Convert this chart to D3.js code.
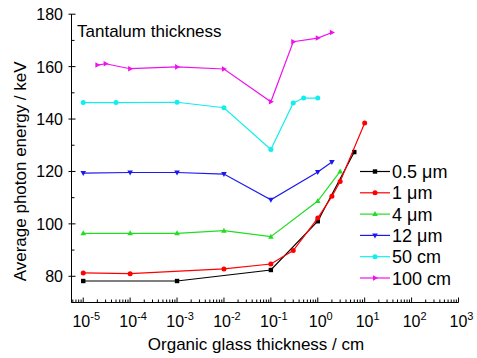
<!DOCTYPE html>
<html>
<head>
<meta charset="utf-8">
<script src="https://cdn.jsdelivr.net/npm/d3@7"></script>
<style>
  body { margin: 0; background: #fff; }
  text { font-family: "Liberation Sans", Arial, sans-serif; }
</style>
</head>
<body>
<script>
// series: x = organic glass thickness (cm), y = keV
const seriesNames = ["0.5 \u03bcm", "1 \u03bcm", "4 \u03bcm", "12 \u03bcm", "50 cm", "100 cm"];
const seriesColors = ["#000000", "#ff0000", "#22dd22", "#1a1aee", "#11eeee", "#ee11ee"];
const seriesSymbols = ["square", "circle", "triUp", "triDown", "circle", "triRight"];

const s05um = [[1e-5, 78.2], [1e-3, 78.2], [0.1, 82.4], [1, 101.0], [6, 127.4]];
const s1um = [[1e-5, 81.3], [1e-4, 81.0], [1e-2, 82.8], [0.1, 84.7], [0.3, 89.8], [1, 102.2], [2, 110.5], [3, 116.2], [10, 138.5]];
const s4um = [[1e-5, 96.4], [1e-4, 96.4], [1e-3, 96.4], [1e-2, 97.4], [0.1, 95.1], [1, 108.7], [3, 120.0]];
const s12um = [[1e-5, 119.4], [1e-4, 119.6], [1e-3, 119.6], [1e-2, 119.0], [0.1, 109.2], [1, 119.8], [2, 123.6]];
const s50cm = [[1e-5, 146.3], [5e-5, 146.3], [1e-3, 146.4], [1e-2, 144.3], [0.1, 128.4], [0.3, 146.1], [0.5, 148.0], [1, 148.0]];
const s100cm = [[2e-5, 160.6], [3e-5, 161.1], [1e-4, 159.2], [1e-3, 159.9], [1e-2, 159.1], [0.1, 146.6], [0.3, 169.5], [1, 170.9], [2, 173.0]];
const allSeries = [s05um, s1um, s4um, s12um, s50cm, s100cm];

const xDecades = [-5, -4, -3, -2, -1, 0, 1, 2, 3];
const yTicks = [80, 100, 120, 140, 160, 180];

const width = 477, height = 358;

const x = d3.scaleLog().domain([Math.pow(10, -5.25), 1000]).range([71.5, 458.5]);
const y = d3.scaleLinear().domain([70, 180]).range([302.5, 14.2]);

const svg = d3.select("body").append("svg")
    .attr("width", width)
    .attr("height", height);

// x axis: line + inward ticks
const xa = svg.append("g");
xa.append("line")
    .attr("x1", x.range()[0]).attr("x2", x.range()[1])
    .attr("y1", y(70)).attr("y2", y(70))
    .attr("stroke", "#000").attr("stroke-width", 1);
let minorX = [];
for (let e = -6; e < 3; e++) {
    for (let k = 2; k <= 9; k++) {
        let v = k * Math.pow(10, e);
        if (v >= x.domain()[0] && v <= 1000) minorX.push(v);
    }
}
xa.selectAll("line.minor").data(minorX).enter().append("line")
    .attr("x1", d => x(d)).attr("x2", d => x(d))
    .attr("y1", y(70)).attr("y2", y(70) - 3)
    .attr("stroke", "#000");
xa.selectAll("line.major").data(xDecades).enter().append("line")
    .attr("x1", d => x(Math.pow(10, d))).attr("x2", d => x(Math.pow(10, d)))
    .attr("y1", y(70)).attr("y2", y(70) - 5)
    .attr("stroke", "#000");
const xl = xa.selectAll("text.tl").data(xDecades).enter().append("text")
    .attr("x", d => x(Math.pow(10, d)) + 3)
    .attr("y", 327)
    .attr("text-anchor", "middle")
    .attr("font-size", 16);
xl.append("tspan").text("10");
xl.append("tspan").attr("dy", -7).attr("font-size", 11).text(d => d);

svg.append("text")
    .attr("x", 256)
    .attr("y", 350)
    .attr("text-anchor", "middle")
    .attr("font-size", 17)
    .text("Organic glass thickness / cm");

// y axis
const ya = svg.append("g");
ya.append("line")
    .attr("x1", x.range()[0]).attr("x2", x.range()[0])
    .attr("y1", y(70)).attr("y2", y(180))
    .attr("stroke", "#000");
ya.selectAll("line.minor").data(d3.range(70, 181, 10).filter(v => v % 20 != 0)).enter().append("line")
    .attr("x1", x.range()[0]).attr("x2", x.range()[0] + 3)
    .attr("y1", d => y(d)).attr("y2", d => y(d))
    .attr("stroke", "#000");
ya.selectAll("line.major").data(yTicks).enter().append("line")
    .attr("x1", x.range()[0] - 3).attr("x2", x.range()[0] + 4)
    .attr("y1", d => y(d)).attr("y2", d => y(d))
    .attr("stroke", "#000");
ya.selectAll("text").data(yTicks).enter().append("text")
    .attr("x", 63)
    .attr("y", d => y(d) + 6)
    .attr("text-anchor", "end")
    .attr("font-size", 16)
    .text(d => d);

svg.append("text")
    .attr("transform", `translate(26,${(y(70) + y(180)) / 2 + 13}) rotate(-90)`)
    .attr("text-anchor", "middle")
    .attr("font-size", 17)
    .text("Average photon energy / keV");

svg.append("text")
    .attr("x", 77).attr("y", 37)
    .attr("font-size", 17)
    .text("Tantalum thickness");

function drawMarker(g, sym, cx, cy, color) {
    const r = 2.5;
    if (sym == "square") {
        g.append("rect").attr("x", cx - r + 0.3).attr("y", cy - r + 0.3)
            .attr("width", 2 * r - 0.6).attr("height", 2 * r - 0.6).attr("fill", color);
    } else if (sym == "circle") {
        g.append("circle").attr("cx", cx).attr("cy", cy).attr("r", r).attr("fill", color);
    } else {
        let pts;
        if (sym == "triUp") pts = [[cx, cy - r - 0.5], [cx - r - 0.3, cy + r - 0.5], [cx + r + 0.3, cy + r - 0.5]];
        else if (sym == "triDown") pts = [[cx, cy + r + 0.5], [cx - r - 0.3, cy - r + 0.5], [cx + r + 0.3, cy - r + 0.5]];
        else pts = [[cx + r + 0.5, cy], [cx - r + 0.5, cy - r - 0.3], [cx - r + 0.5, cy + r + 0.3]];
        g.append("polygon").attr("points", pts.map(p => p.join(",")).join(" ")).attr("fill", color);
    }
}

const line = d3.line().x(d => x(d[0])).y(d => y(d[1]));

allSeries.forEach((data, i) => {
    const g = svg.append("g");
    g.append("path")
        .datum(data)
        .attr("d", line)
        .attr("fill", "none")
        .attr("stroke", seriesColors[i])
        .attr("stroke-width", 1.2);
    data.forEach(d => drawMarker(g, seriesSymbols[i], x(d[0]), y(d[1]), seriesColors[i]));
});

// legend
const leg = svg.append("g");
seriesNames.forEach((name, i) => {
    const ly = 171.5 + i * 21.3;
    leg.append("line")
        .attr("x1", 360).attr("x2", 390)
        .attr("y1", ly).attr("y2", ly)
        .attr("stroke", seriesColors[i]).attr("stroke-width", 1.2);
    drawMarker(leg, seriesSymbols[i], 375, ly, seriesColors[i]);
    leg.append("text")
        .attr("x", 392).attr("y", ly + 6.5)
        .attr("font-size", 18)
        .text(name);
});
</script>
</body>
</html>
